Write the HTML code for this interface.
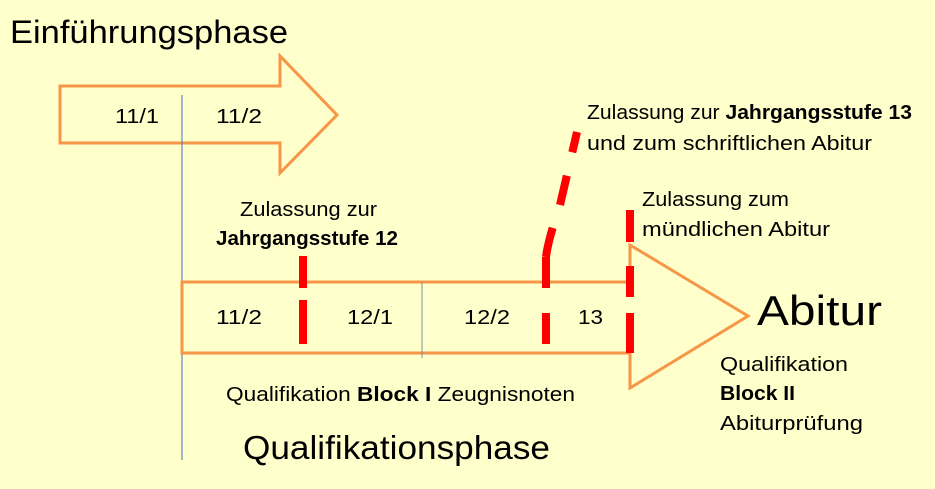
<!DOCTYPE html>
<html><head><meta charset="utf-8"><style>
html,body{margin:0;padding:0;background:#FFFFCC;}
svg{display:block}
text{font-family:"Liberation Sans",sans-serif;fill:#000}
</style></head><body>
<svg width="935" height="489" viewBox="0 0 935 489">
<rect width="935" height="489" fill="#FFFFCC"/>
<text x="10" y="43" font-size="32" textLength="278" lengthAdjust="spacingAndGlyphs">Einführungsphase</text>
<polygon points="60,86 280,86 280,56 337,115 280,173 280,143 60,143" fill="none" stroke="#F79646" stroke-width="3"/>
<text x="115" y="123" font-size="20" textLength="44" lengthAdjust="spacingAndGlyphs">11/1</text>
<text x="216" y="123" font-size="20" textLength="46" lengthAdjust="spacingAndGlyphs">11/2</text>
<line x1="182" y1="95" x2="182" y2="460" stroke="#4472C4" stroke-width="1"/>
<polygon points="182,282 630,282 630,245 748,316 630,388 630,353 182,353" fill="none" stroke="#F79646" stroke-width="3"/>
<line x1="422" y1="282" x2="422" y2="358" stroke="#7F8FA6" stroke-width="1"/>
<text x="216" y="324" font-size="20" textLength="46" lengthAdjust="spacingAndGlyphs">11/2</text>
<text x="347" y="324" font-size="20" textLength="46" lengthAdjust="spacingAndGlyphs">12/1</text>
<text x="464" y="324" font-size="20" textLength="46" lengthAdjust="spacingAndGlyphs">12/2</text>
<text x="578" y="324" font-size="20" textLength="25" lengthAdjust="spacingAndGlyphs">13</text>
<g stroke="#FF0000" stroke-width="8" fill="none">
<line x1="303" y1="256" x2="303" y2="288"/><line x1="303" y1="300" x2="303" y2="344"/>
<line x1="546" y1="257" x2="546" y2="288"/><line x1="546" y1="313" x2="546" y2="344"/>
<path d="M546,257 Q548,240 560,205 L577,132" stroke-dasharray="30,24"/>
<line x1="630" y1="210" x2="630" y2="242"/><line x1="630" y1="266" x2="630" y2="297"/><line x1="630" y1="313" x2="630" y2="353"/>
</g>
<text x="240" y="216" font-size="20" textLength="137" lengthAdjust="spacingAndGlyphs">Zulassung zur</text>
<text x="216" y="245" font-size="20" font-weight="bold" textLength="182" lengthAdjust="spacingAndGlyphs">Jahrgangsstufe 12</text>
<text x="587" y="119" font-size="20" textLength="325" lengthAdjust="spacingAndGlyphs">Zulassung zur <tspan font-weight="bold">Jahrgangsstufe 13</tspan></text>
<text x="587" y="150" font-size="20" textLength="285" lengthAdjust="spacingAndGlyphs">und zum schriftlichen Abitur</text>
<text x="642" y="206" font-size="20" textLength="147" lengthAdjust="spacingAndGlyphs">Zulassung zum</text>
<text x="642" y="236" font-size="20" textLength="188" lengthAdjust="spacingAndGlyphs">mündlichen Abitur</text>
<text x="757" y="325" font-size="42" textLength="125" lengthAdjust="spacingAndGlyphs">Abitur</text>
<text x="720" y="371" font-size="20" textLength="128" lengthAdjust="spacingAndGlyphs">Qualifikation</text>
<text x="720" y="400" font-size="20" font-weight="bold" textLength="75" lengthAdjust="spacingAndGlyphs">Block II</text>
<text x="720" y="430" font-size="20" textLength="143" lengthAdjust="spacingAndGlyphs">Abiturprüfung</text>
<text x="226" y="401" font-size="20" textLength="349" lengthAdjust="spacingAndGlyphs">Qualifikation <tspan font-weight="bold">Block I</tspan>  Zeugnisnoten</text>
<text x="243" y="459" font-size="33" textLength="307" lengthAdjust="spacingAndGlyphs">Qualifikationsphase</text>
</svg>
</body></html>
